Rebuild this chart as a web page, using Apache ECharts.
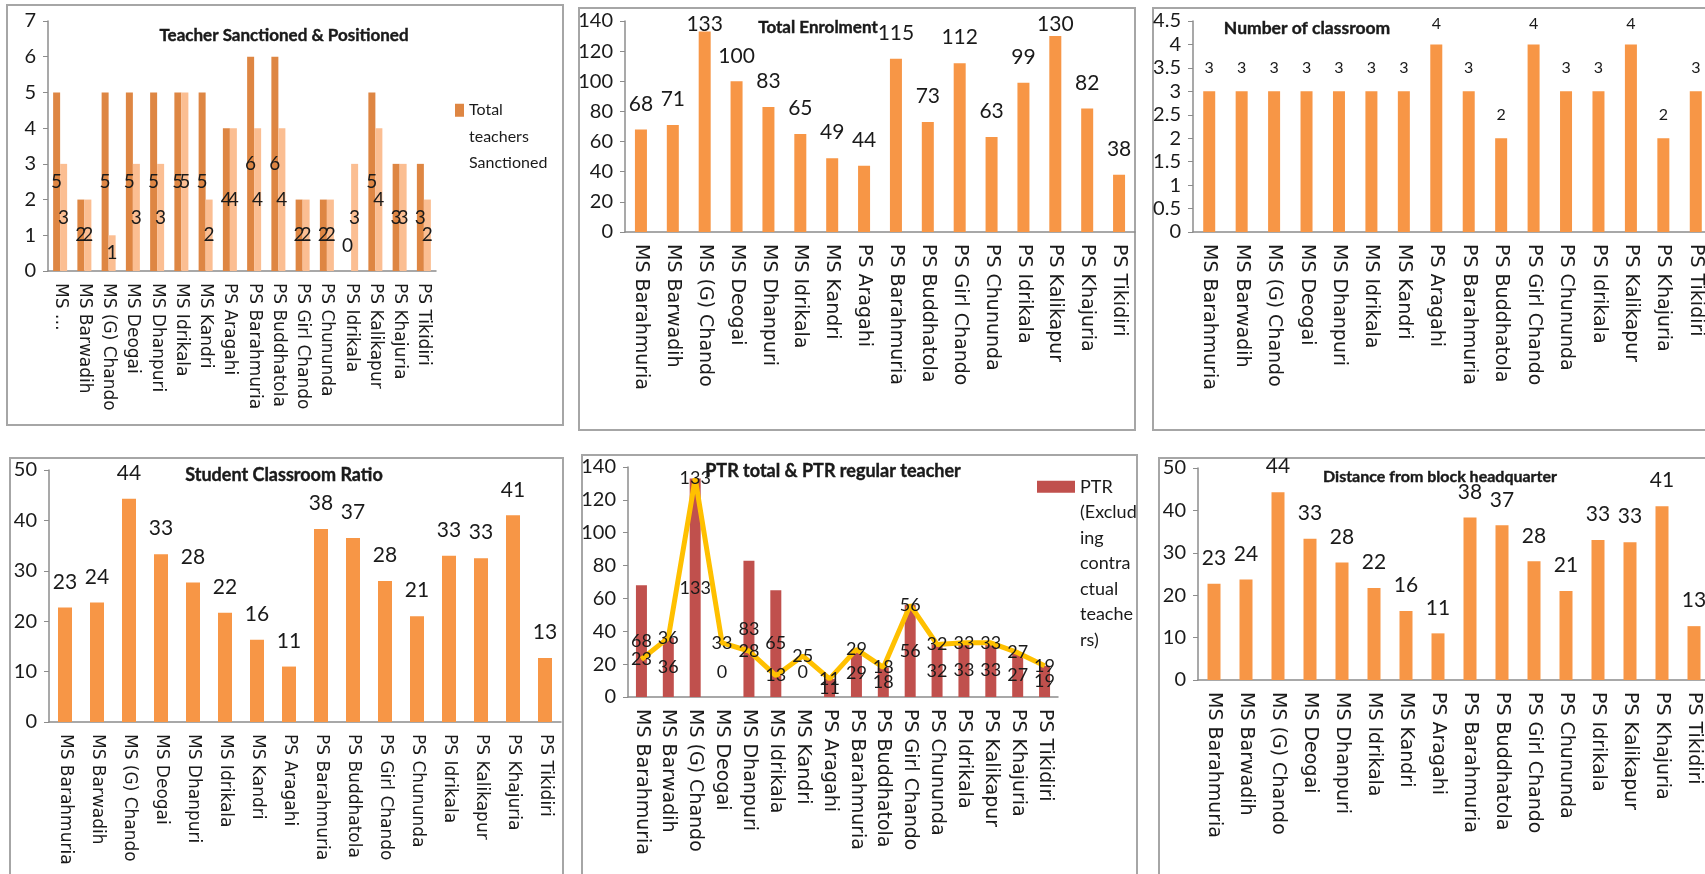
<!DOCTYPE html>
<html>
<head>
<meta charset="utf-8">
<title>School indicators</title>
<script src="https://cdn.jsdelivr.net/npm/echarts@6/dist/echarts.min.js"></script>
<style>
  html, body { margin: 0; padding: 0; background: #fff; overflow: hidden; }
  #chart { width: 1705px; height: 874px; }
</style>
</head>
<body>
<div id="chart"></div>
<script>
// data
var schools = ["MS Barahmuria", "MS Barwadih", "MS (G) Chando", "MS Deogai", "MS Dhanpuri", "MS Idrikala", "MS Kandri",
  "PS Aragahi", "PS Barahmuria", "PS Buddhatola", "PS Girl Chando", "PS Chununda", "PS Idrikala", "PS Kalikapur",
  "PS Khajuria", "PS Tikidiri"];
var teachersSanctioned = [5, 2, 5, 5, 5, 5, 5, 4, 6, 6, 2, 2, 0, 5, 3, 3];
var teachersPositioned = [3, 2, 1, 3, 3, 5, 2, 4, 4, 4, 2, 2, 3, 4, 3, 2];
var totalEnrolment = [68, 71, 133, 100, 83, 65, 49, 44, 115, 73, 112, 63, 99, 130, 82, 38];
var classrooms = [3, 3, 3, 3, 3, 3, 3, 4, 3, 2, 4, 3, 3, 4, 2, 3];
var studentClassroomRatio = [22.7, 23.7, 44.3, 33.3, 27.7, 21.7, 16.3, 11, 38.3, 36.5, 28, 21, 33, 32.5, 41, 12.7];
var ptrRegular = [68, 36, 133, 0, 83, 65, 0, 11, 29, 18, 56, 32, 33, 33, 27, 19];
var ptrTotal = [23, 36, 133, 33, 28, 13, 25, 11, 29, 18, 56, 32, 33, 33, 27, 19];
var distanceFromHq = [22.7, 23.7, 44.3, 33.3, 27.7, 21.7, 16.3, 11, 38.3, 36.5, 28, 21, 33, 32.5, 41, 12.7];

var narrow = 'Lato, "Noto Sans", sans-serif';
var wide = '"DejaVu Sans", Verdana, sans-serif';
var axisGrey = "#8c8c8c";
var ink = "#1a1a1a";

// plot areas and panel frames (absolute px)
var grids = [
  { left: 48, top: 21, width: 388, height: 250 },
  { left: 625, top: 21, width: 510, height: 211 },
  { left: 1193, top: 21, width: 519, height: 211 },
  { left: 49, top: 470, width: 512, height: 252 },
  { left: 628, top: 467, width: 430, height: 230 },
  { left: 1198, top: 468, width: 512, height: 212 }
];
var frames = [
  [7, 5, 556, 420], [579, 8, 556, 422], [1153, 8, 600, 422],
  [10, 458, 553, 500], [582, 455, 555, 500], [1159, 458, 600, 500]
];

function catAxis(i, fontSize, formatter) {
  return {
    type: "category",
    gridIndex: i,
    data: schools,
    axisLine: { lineStyle: { color: axisGrey, width: 1.5 } },
    axisTick: { length: 5, lineStyle: { color: axisGrey } },
    axisLabel: {
      interval: 0,
      rotate: -90,
      margin: 12,
      fontFamily: wide,
      fontSize: fontSize,
      color: ink,
      formatter: formatter
    }
  };
}

function valAxis(i, max, interval) {
  return {
    type: "value",
    gridIndex: i,
    min: 0,
    max: max,
    interval: interval,
    splitLine: { show: false },
    axisLine: { show: true, lineStyle: { color: axisGrey, width: 1.5 } },
    axisTick: { show: true, length: 5, lineStyle: { color: axisGrey } },
    axisLabel: { margin: 12, fontFamily: narrow, fontSize: 20, color: ink }
  };
}

function title(text, cx, cy, size) {
  return {
    text: text,
    left: cx,
    top: cy - size / 2 - 1,
    textAlign: "center",
    padding: 0,
    textStyle: {
      fontFamily: narrow, fontWeight: "bold", fontSize: size, color: ink,
      textBorderColor: ink, textBorderWidth: 0.4
    }
  };
}

function topLabel(size) {
  return {
    show: true,
    position: "top",
    distance: 15,
    fontFamily: narrow,
    fontSize: size,
    color: ink,
    formatter: function (p) { return Math.round(p.value); }
  };
}

function insideLabel(size) {
  return {
    show: true,
    position: "inside",
    fontFamily: narrow,
    fontSize: size,
    color: ink
  };
}

// keep top labels inside the chart area, like the spreadsheet does
function clampTop(minY) {
  return function (p) {
    return p.labelRect.y < minY ? { dy: minY - p.labelRect.y } : {};
  };
}
// zero bars: label sits a bit above the axis
function liftZero(values) {
  return function (p) {
    return values[p.dataIndex] === 0 ? { dy: -25 } : {};
  };
}

var myChart = echarts.init(document.getElementById("chart"));

var option = {
  animation: false,
  backgroundColor: "#fff",
  graphic: frames.map(function (f) {
    return {
      type: "rect",
      shape: { x: f[0], y: f[1], width: f[2], height: f[3] },
      style: { fill: null, stroke: "#a6a6a6", lineWidth: 2 },
      z: 0
    };
  }),
  title: [
    title("Teacher Sanctioned & Positioned", 284, 37, 17),
    title("Total Enrolment", 818, 29, 17),
    title("Number of classroom", 1307, 29, 17.5),
    title("Student Classroom Ratio", 284, 476, 18),
    title("PTR total & PTR regular teacher", 833, 472, 18),
    title("Distance from block headquarter", 1440, 478, 16)
  ],
  legend: [
    {
      data: ["Total teachers Sanctioned"],
      left: 455,
      top: 44,
      padding: 0,
      icon: "rect",
      itemWidth: 9,
      itemHeight: 13,
      formatter: function () { return "\n\nTotal\nteachers\nSanctioned"; },
      textStyle: { fontFamily: narrow, fontSize: 16, color: ink, lineHeight: 26.5 }
    },
    {
      data: ["PTR (Excluding contractual teachers)"],
      left: 1037,
      top: 321,
      padding: 0,
      icon: "rect",
      itemWidth: 38,
      itemHeight: 12,
      formatter: function () { return "\n\n\n\n\n\nPTR\n(Exclud\ning\ncontra\nctual\nteache\nrs)"; },
      textStyle: { fontFamily: narrow, fontSize: 18, color: ink, lineHeight: 25.5 }
    }
  ],
  grid: grids.map(function (g) {
    return { left: g.left, top: g.top, width: g.width, height: g.height, outerBoundsMode: "none" };
  }),
  xAxis: [
    catAxis(0, 17, function (v, i) { return i === 0 ? "MS …" : v; }),
    catAxis(1, 19),
    catAxis(2, 19),
    catAxis(3, 17),
    catAxis(4, 19),
    catAxis(5, 19)
  ],
  yAxis: [
    valAxis(0, 7, 1),
    valAxis(1, 140, 20),
    valAxis(2, 4.5, 0.5),
    valAxis(3, 50, 10),
    valAxis(4, 140, 20),
    valAxis(5, 50, 10)
  ],
  series: [
    {
      name: "Total teachers Sanctioned",
      type: "bar",
      xAxisIndex: 0, yAxisIndex: 0,
      data: teachersSanctioned,
      barWidth: 7,
      barGap: "0%",
      itemStyle: { color: "#de8643" },
      label: insideLabel(19),
      labelLayout: liftZero(teachersSanctioned)
    },
    {
      name: "Total teachers Positioned",
      type: "bar",
      xAxisIndex: 0, yAxisIndex: 0,
      data: teachersPositioned,
      barWidth: 7,
      barGap: "0%",
      itemStyle: { color: "#fbbe92" },
      label: insideLabel(19)
    },
    {
      name: "Total Enrolment",
      type: "bar",
      xAxisIndex: 1, yAxisIndex: 1,
      data: totalEnrolment,
      barWidth: 12,
      itemStyle: { color: "#f79646" },
      label: topLabel(21),
      labelLayout: clampTop(14)
    },
    {
      name: "Number of classroom",
      type: "bar",
      xAxisIndex: 2, yAxisIndex: 2,
      data: classrooms,
      barWidth: 12,
      itemStyle: { color: "#f79646" },
      label: topLabel(16),
      labelLayout: clampTop(16)
    },
    {
      name: "Student Classroom Ratio",
      type: "bar",
      xAxisIndex: 3, yAxisIndex: 3,
      data: studentClassroomRatio,
      barWidth: 14,
      itemStyle: { color: "#f79646" },
      label: topLabel(21)
    },
    {
      name: "PTR (Excluding contractual teachers)",
      type: "bar",
      xAxisIndex: 4, yAxisIndex: 4,
      data: ptrRegular,
      barWidth: 11,
      itemStyle: { color: "#c0504d" },
      label: insideLabel(18),
      labelLayout: liftZero(ptrRegular)
    },
    {
      name: "PTR total",
      type: "line",
      xAxisIndex: 4, yAxisIndex: 4,
      data: ptrTotal,
      symbol: "circle",
      symbolSize: 1,
      lineStyle: { color: "#ffc000", width: 5 },
      itemStyle: { color: "#ffc000" },
      label: insideLabel(18),
      z: 3
    },
    {
      name: "Distance from block headquarter",
      type: "bar",
      xAxisIndex: 5, yAxisIndex: 5,
      data: distanceFromHq,
      barWidth: 13,
      itemStyle: { color: "#f79646" },
      label: topLabel(21)
    }
  ]
};

myChart.setOption(option);
</script>
</body>
</html>
